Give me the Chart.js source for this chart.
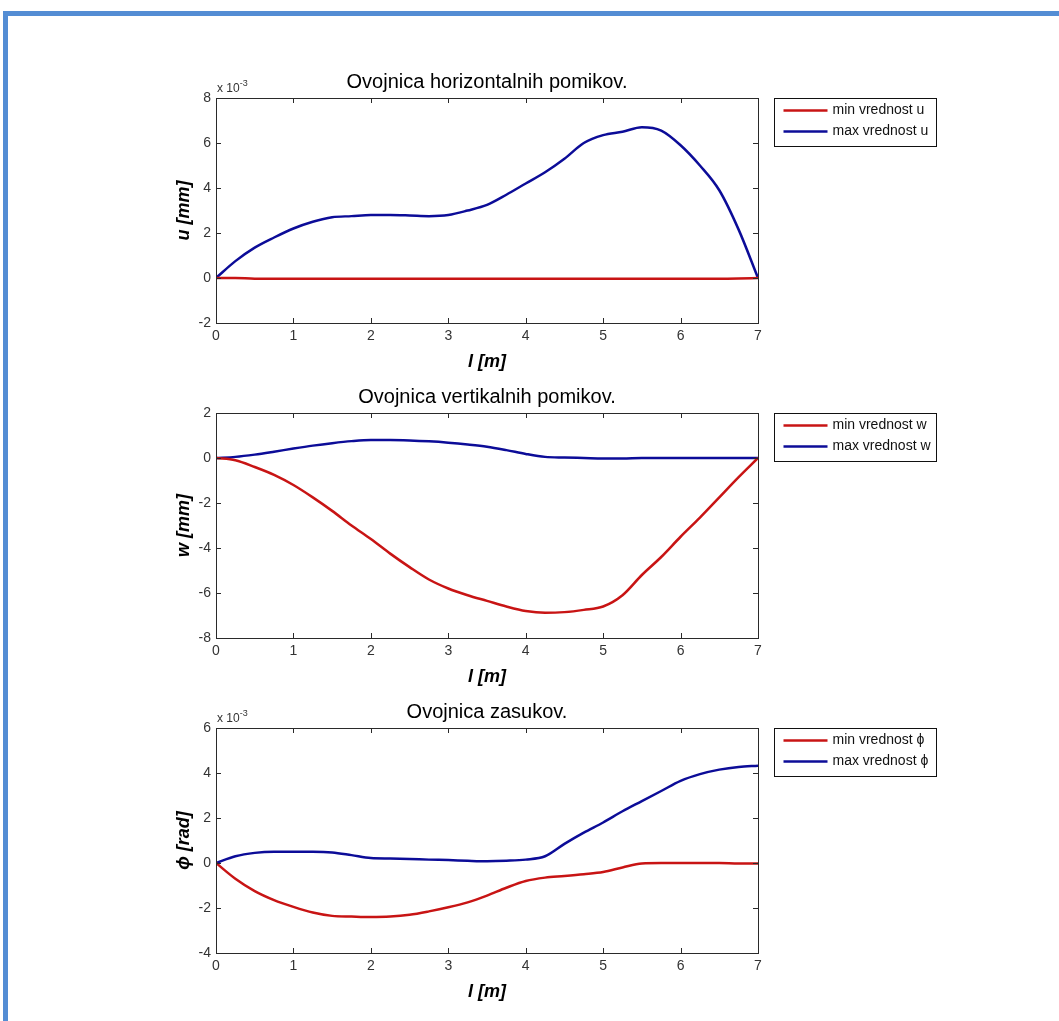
<!DOCTYPE html>
<html>
<head>
<meta charset="utf-8">
<title>Ovojnice pomikov</title>
<script src="https://cdn.jsdelivr.net/npm/chart.js@4"></script>
<style>
    html, body { margin: 0; padding: 0; background: #fff; }
    body { width: 1059px; height: 1021px; position: relative; overflow: hidden; }
    .frame-top { position: absolute; left: 3px; top: 11px; width: 1056px; height: 5px; background: #548dd4; }
    .frame-left { position: absolute; left: 3px; top: 11px; width: 5px; height: 1010px; background: #548dd4; }
    canvas { position: absolute; left: 0; }
</style>
</head>
<body>
<div class="frame-top"></div>
<div class="frame-left"></div>
<canvas id="chartU" width="1059" height="315" style="top:58px"></canvas>
<canvas id="chartW" width="1059" height="315" style="top:373px"></canvas>
<canvas id="chartPhi" width="1059" height="315" style="top:688px"></canvas>
<script>
// --- data ---
const lPos = [0, 0.25, 0.5, 0.75, 1, 1.25, 1.5, 1.75, 2, 2.25, 2.5, 2.75, 3, 3.25, 3.5,
              3.75, 4, 4.25, 4.5, 4.75, 5, 5.25, 5.5, 5.75, 6, 6.25, 6.5, 6.75, 7];

// horizontal displacements (x 10^-3 mm)
const uMin = [0, 0, -0.03, -0.03, -0.03, -0.03, -0.03, -0.03, -0.03, -0.03, -0.03, -0.03, -0.03, -0.03, -0.03,
              -0.03, -0.03, -0.03, -0.03, -0.03, -0.03, -0.03, -0.03, -0.03, -0.03, -0.03, -0.03, -0.02, 0];
const uMax = [0, 0.75, 1.35, 1.8, 2.2, 2.5, 2.7, 2.75, 2.8, 2.8, 2.78, 2.75, 2.8, 3.0, 3.25,
              3.7, 4.2, 4.7, 5.3, 6.0, 6.35, 6.5, 6.7, 6.55, 5.9, 5.0, 3.9, 2.15, 0];

// vertical displacements (mm)
const wMin = [0, -0.1, -0.4, -0.75, -1.2, -1.75, -2.35, -3.0, -3.6, -4.25, -4.85, -5.4, -5.8, -6.1, -6.35,
              -6.6, -6.8, -6.88, -6.85, -6.75, -6.6, -6.1, -5.2, -4.4, -3.5, -2.65, -1.75, -0.85, 0];
const wMax = [0, 0.05, 0.15, 0.28, 0.42, 0.55, 0.66, 0.75, 0.8, 0.8, 0.78, 0.74, 0.68, 0.6, 0.5,
              0.35, 0.18, 0.05, 0.02, 0, -0.02, -0.02, 0, 0, 0, 0, 0, 0, 0];

// rotations (x 10^-3 rad)
const phiMin = [0, -0.7, -1.25, -1.65, -1.95, -2.2, -2.35, -2.38, -2.4, -2.38, -2.3, -2.15, -1.97, -1.75, -1.45,
                -1.1, -0.8, -0.65, -0.58, -0.5, -0.4, -0.2, -0.02, 0, 0, 0, 0, -0.02, -0.02];
const phiMax = [0, 0.3, 0.45, 0.5, 0.5, 0.5, 0.47, 0.35, 0.22, 0.2, 0.18, 0.15, 0.13, 0.1, 0.08,
                0.1, 0.15, 0.3, 0.85, 1.35, 1.8, 2.3, 2.75, 3.2, 3.65, 3.95, 4.15, 4.27, 4.32];

// axis ticks
const xTicks = [0, 1, 2, 3, 4, 5, 6, 7];
const uTicks = [-2, 0, 2, 4, 6, 8];
const wTicks = [-8, -6, -4, -2, 0, 2];
const phiTicks = [-4, -2, 0, 2, 4, 6];

const RED = '#c81414';
const BLUE = '#0c0c98';
const FONT = '"Liberation Sans", Arial, sans-serif';

// MATLAB-like box, inward ticks, exponent label and boxed legend
const matlabAxes = {
    id: 'matlabAxes',
    afterDatasetsDraw(chart, args, opts) {
        const { ctx, chartArea: a, scales: { x, y } } = chart;
        ctx.save();
        ctx.strokeStyle = '#2a2a2a';
        ctx.lineWidth = 1;
        ctx.strokeRect(a.left + 0.5, a.top + 0.5, a.right - a.left, a.bottom - a.top);

        const tl = 5;
        ctx.beginPath();
        x.ticks.forEach(t => {
            const px = Math.round(x.getPixelForValue(t.value)) + 0.5;
            ctx.moveTo(px, a.bottom); ctx.lineTo(px, a.bottom - tl);
            ctx.moveTo(px, a.top); ctx.lineTo(px, a.top + tl);
        });
        y.ticks.forEach(t => {
            const py = Math.round(y.getPixelForValue(t.value)) + 0.5;
            ctx.moveTo(a.left, py); ctx.lineTo(a.left + tl, py);
            ctx.moveTo(a.right, py); ctx.lineTo(a.right - tl, py);
        });
        ctx.stroke();

        // exponent "x 10^-3"
        if (opts.exponent) {
            ctx.fillStyle = '#333';
            ctx.textBaseline = 'alphabetic';
            ctx.font = '12px ' + FONT;
            ctx.fillText('x 10', a.left + 1, a.top - 6);
            const w = ctx.measureText('x 10').width;
            ctx.font = '9px ' + FONT;
            ctx.fillText(opts.exponent, a.left + 1 + w, a.top - 12);
        }

        // legend box
        const bx = a.right + 16.5, by = a.top + 0.5, bw = 162, bh = 48;
        ctx.fillStyle = '#fff';
        ctx.fillRect(bx, by, bw, bh);
        ctx.strokeStyle = '#111';
        ctx.strokeRect(bx, by, bw, bh);
        ctx.font = '14px ' + FONT;
        ctx.textBaseline = 'middle';
        chart.data.datasets.forEach((ds, i) => {
            const ry = by + 12 + i * 21;
            ctx.strokeStyle = ds.borderColor;
            ctx.lineWidth = 2.5;
            ctx.beginPath();
            ctx.moveTo(bx + 9, ry);
            ctx.lineTo(bx + 53, ry);
            ctx.stroke();
            ctx.fillStyle = '#111';
            ctx.fillText(ds.label, bx + 58, ry);
        });
        ctx.restore();
    }
};

function toPoints(values) {
    return lPos.map((l, i) => ({ x: l, y: values[i] }));
}

function makeChart(id, title, yTitle, range, yTicks, exponent, minData, maxData, names) {
    const line = {
        borderWidth: 2.5,
        pointRadius: 0,
        cubicInterpolationMode: 'monotone',
        fill: false
    };
    new Chart(document.getElementById(id).getContext('2d'), {
        type: 'line',
        data: {
            datasets: [
                Object.assign({ label: names[0], data: toPoints(minData), borderColor: RED }, line),
                Object.assign({ label: names[1], data: toPoints(maxData), borderColor: BLUE }, line)
            ]
        },
        options: {
            responsive: false,
            animation: false,
            events: [],
            layout: { padding: { left: 146, right: 301, top: 12, bottom: 0 } },
            scales: {
                x: {
                    type: 'linear',
                    min: 0,
                    max: 7,
                    afterBuildTicks: s => { s.ticks = xTicks.map(v => ({ value: v })); },
                    afterFit: s => { s.height = 50; },
                    grid: { display: false, drawTicks: false },
                    border: { display: false },
                    ticks: { padding: 5, color: '#333', font: { family: FONT, size: 14 } },
                    title: {
                        display: true,
                        text: 'l [m]',
                        color: '#000',
                        font: { family: FONT, size: 18, style: 'italic', weight: 'bold' },
                        padding: { top: 5, bottom: 0 }
                    }
                },
                y: {
                    min: range[0],
                    max: range[1],
                    afterBuildTicks: s => { s.ticks = yTicks.map(v => ({ value: v })); },
                    afterFit: s => { s.width = 70; },
                    grid: { display: false, drawTicks: false },
                    border: { display: false },
                    ticks: { padding: 5, color: '#333', font: { family: FONT, size: 14 } },
                    title: {
                        display: true,
                        text: yTitle,
                        color: '#000',
                        font: { family: FONT, size: 18, style: 'italic', weight: 'bold' },
                        padding: { top: 27, bottom: 0 }
                    }
                }
            },
            plugins: {
                legend: { display: false },
                tooltip: { enabled: false },
                title: {
                    display: true,
                    text: title,
                    fullSize: false,
                    color: '#000',
                    font: { family: FONT, size: 20, weight: 'normal' },
                    padding: { top: 0, bottom: 4 }
                },
                matlabAxes: { exponent: exponent }
            }
        },
        plugins: [matlabAxes]
    });
}

makeChart('chartU', 'Ovojnica horizontalnih pomikov.', 'u [mm]', [-2, 8], uTicks, '-3',
    uMin, uMax, ['min vrednost u', 'max vrednost u']);
makeChart('chartW', 'Ovojnica vertikalnih pomikov.', 'w [mm]', [-8, 2], wTicks, null,
    wMin, wMax, ['min vrednost w', 'max vrednost w']);
makeChart('chartPhi', 'Ovojnica zasukov.', 'ϕ [rad]', [-4, 6], phiTicks, '-3',
    phiMin, phiMax, ['min vrednost ϕ', 'max vrednost ϕ']);
</script>
</body>
</html>
